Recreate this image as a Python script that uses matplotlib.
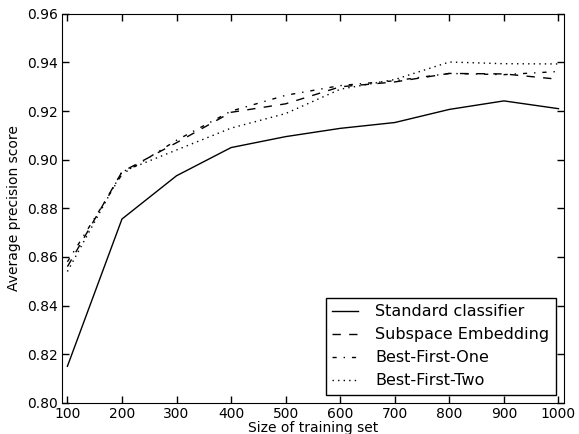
import matplotlib
matplotlib.use('Agg')
import matplotlib.pyplot as plt

sizes = [100, 200, 300, 400, 500, 600, 700, 800, 900, 1000]
standard = [0.815, 0.8756, 0.8934, 0.905, 0.9095, 0.9129, 0.9153, 0.9207, 0.9242, 0.921]
subspace = [0.856, 0.895, 0.907, 0.9195, 0.923, 0.9300, 0.932, 0.9355, 0.9353, 0.9331]
best_one = [0.858, 0.894, 0.908, 0.920, 0.9265, 0.9305, 0.9325, 0.9355, 0.935, 0.9363]
best_two = [0.854, 0.895, 0.904, 0.913, 0.919, 0.929, 0.933, 0.9402, 0.9395, 0.9394]

plt.rcParams['font.size'] = 10
plt.rcParams['xtick.direction'] = 'in'
plt.rcParams['ytick.direction'] = 'in'
plt.rcParams['xtick.top'] = True
plt.rcParams['ytick.right'] = True

fig = plt.figure(figsize=(5.79, 4.34), dpi=100)
ax = fig.add_axes([0.107, 0.072, 0.867, 0.896])

# old-style dash patterns
ax.plot(sizes, standard, color='k', ls='-', lw=1, label='Standard classifier')
ax.plot(sizes, subspace, color='k', ls=(0, (6, 6)), lw=1, label='Subspace Embedding')
ax.plot(sizes, best_one, color='k', ls=(0, (3, 5, 1, 5)), lw=1, label='Best-First-One')
ax.plot(sizes, best_two, color='k', ls=(0, (1, 3)), lw=1, label='Best-First-Two')

ax.set_xlim(90, 1010)
ax.set_ylim(0.80, 0.96)
ax.set_xticks(sizes)
ax.set_yticks([0.80, 0.82, 0.84, 0.86, 0.88, 0.90, 0.92, 0.94, 0.96])
ax.set_yticklabels(['%.2f' % v for v in ax.get_yticks()])
ax.tick_params(length=5, width=1, pad=3)
ax.set_xlabel('Size of training set', labelpad=0)
ax.set_ylabel('Average precision score')

leg = ax.legend(loc='lower right', fancybox=False, framealpha=1,
                edgecolor='k', handlelength=1.6, handletextpad=1.1,
                borderpad=0.4, fontsize=11.5)
leg.get_frame().set_linewidth(1)

fig.savefig('out.png', dpi=100)
